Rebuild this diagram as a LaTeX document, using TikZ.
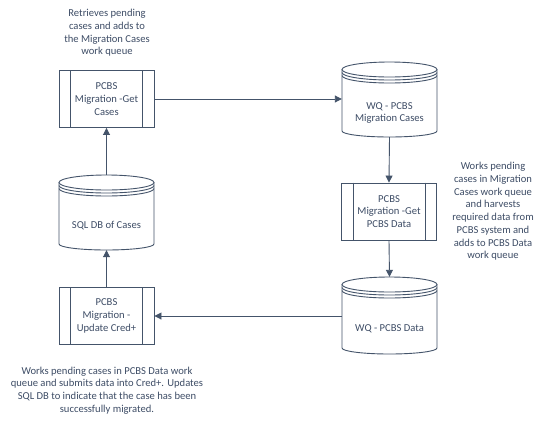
\documentclass[tikz,border=0pt]{standalone}
\usepackage{fontspec}
\setmainfont{Carlito}
\usetikzlibrary{arrows.meta,calc}
\definecolor{ln}{HTML}{44546A}
\definecolor{tx}{HTML}{3E4D66}
\tikzset{
  lbl/.style={inner sep=0pt, align=center, text=tx, font=\fontsize{10.6}{12.7}\selectfont},
  procbox/.style={draw=ln, line width=0.9pt, minimum width=95pt, minimum height=57pt, inner sep=0pt, align=center, text=tx, font=\fontsize{10.6}{12.7}\selectfont},
  cylarea/.style={inner sep=0pt, align=center, text=tx, font=\fontsize{10.6}{12.7}\selectfont},
  shp/.style={draw=ln, line width=0.9pt},
  conn/.style={draw=ln, line width=0.9pt, -{Triangle[length=7pt,width=7pt]}},
}
\newcommand\bars[1]{%
  \draw[shp] ([xshift=12pt]#1.north west) -- ([xshift=12pt]#1.south west);
  \draw[shp] ([xshift=-12pt]#1.north east) -- ([xshift=-12pt]#1.south east);}
% name, cx, top, bottom, halfwidth
\newcommand\dbcyl[5]{%
  \draw[shp, fill=white] (#2-#5,#3+7.5) -- (#2-#5,#4-6) arc[start angle=180,end angle=360,x radius=#5pt,y radius=6pt] -- (#2+#5,#3+7.5);
  \draw[shp] (#2,#3+7.5) ellipse [x radius=#5pt, y radius=7.5pt];
  \draw[shp] (#2-#5,#3+10.5) arc[start angle=180,end angle=360,x radius=#5pt,y radius=7.5pt];
  \draw[shp] (#2-#5,#3+13.5) arc[start angle=180,end angle=360,x radius=#5pt,y radius=7.5pt];
  \node[inner sep=0pt, minimum width=2*#5pt, minimum height=#4pt-#3pt] (#1) at (#2,{(#3+#4)/2}) {};}
\begin{document}
\begin{tikzpicture}[x=1pt,y=-1pt]
\useasboundingbox[fill=white] (0,0) rectangle (543,424);
% annotations
\node[lbl] (t1) at (107,33) {Retrieves pending\\cases and adds to\\the Migration Cases\\work queue};
\node[lbl] (t2) at (493,211.5) {Works pending\\cases in Migration\\Cases work queue\\and harvests\\required data from\\PCBS system and\\adds to PCBS Data\\work queue};
\node[lbl] (t3) at (107,390.5) {Works pending cases in PCBS Data work\\queue and submits data into Cred+. Updates\\SQL DB to indicate that the case has been\\successfully migrated.};
% process boxes
\node[procbox] (b1) at (106.5,99) {PCBS\\Migration -Get\\Cases};
\bars{b1}
\node[procbox] (b2) at (389,211.5) {PCBS\\Migration -Get\\PCBS Data};
\bars{b2}
\node[procbox] (b3) at (106.5,316) {PCBS\\Migration -\\Update Cred+};
\bars{b3}
% cylinders
\dbcyl{c1}{389.5}{62}{137}{47.5}
\node[cylarea] (c1t) at (389.5,113) {WQ - PCBS\\Migration Cases};
\dbcyl{c2}{389.5}{277}{354}{47.5}
\node[cylarea] (c2t) at (389.5,329) {WQ - PCBS Data};
\dbcyl{c3}{106.5}{175}{250}{47.5}
\node[cylarea] (c3t) at (106.5,226) {SQL DB of Cases};
% connectors
\draw[conn] (b1.east) -- (b1.east -| c1.west);
\draw[conn] (c1.south) -- (b2.north);
\draw[conn] (b2.south) -- (c2.north);
\draw[conn] (c2.west |- b3.east) -- (b3.east);
\draw[conn] (b3.north) -- (c3.south);
\draw[conn] (c3.north) -- (b1.south);
\end{tikzpicture}
\end{document}
